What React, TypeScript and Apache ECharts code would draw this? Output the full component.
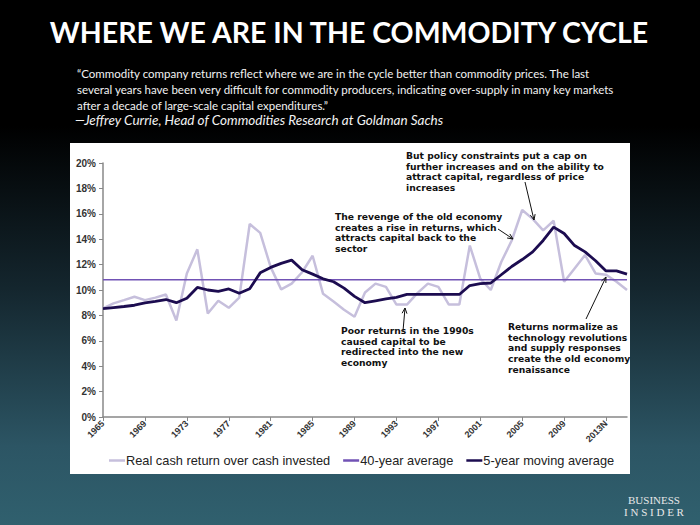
import React, { useEffect, useRef } from "react";
import * as echarts from "echarts";

const years: string[] = [
  "1965","1966","1967","1968","1969","1970","1971","1972","1973","1974",
  "1975","1976","1977","1978","1979","1980","1981","1982","1983","1984",
  "1985","1986","1987","1988","1989","1990","1991","1992","1993","1994",
  "1995","1996","1997","1998","1999","2000","2001","2002","2003","2004",
  "2005","2006","2007","2008","2009","2010","2011","2012","2013N","2014",
  "2015",
];

const realCashReturn: number[] = [
  8.55, 8.95, 9.2, 9.47, 9.2, 9.4, 9.65, 7.6, 11.3, 13.2,
  8.15, 9.15, 8.6, 9.4, 15.2, 14.5, 11.8, 10.05, 10.5, 11.4,
  12.7, 9.7, 9.1, 8.45, 7.9, 9.8, 10.5, 10.25, 8.85, 8.85,
  9.75, 10.5, 10.25, 8.85, 8.85, 13.5, 10.9, 10.0, 12.2, 13.9,
  16.3, 15.6, 14.7, 15.45, 10.65, 11.7, 12.75, 11.3, 11.2, 10.65,
  10.0,
];

const movingAverage5y: number[] = [
  8.53, 8.62, 8.7, 8.8, 8.98, 9.1, 9.25, 9.0, 9.35, 10.2,
  10.0, 9.9, 10.08, 9.75, 10.1, 11.35, 11.78, 12.1, 12.35, 11.6,
  11.25, 10.88, 10.65, 10.15, 9.5, 9.0, 9.15, 9.3, 9.42, 9.65,
  9.65, 9.65, 9.65, 9.65, 9.65, 10.35, 10.5, 10.55, 11.2, 11.85,
  12.4, 13.0, 13.9, 14.95, 14.45, 13.5, 13.0, 12.3, 11.5, 11.5,
  11.25,
];

const fortyYearAverageValue = 10.8;
const fortyYearAverage: number[] = years.map(() => fortyYearAverageValue);

const seriesNames: string[] = [
  "Real cash return over cash invested",
  "40-year average",
  "5-year moving average",
];

const titleText = "WHERE WE ARE IN THE COMMODITY CYCLE";
const quoteLines: string[] = [
  "“Commodity company returns reflect where we are in the cycle better than commodity prices. The last",
  "several years have been very difficult for commodity producers, indicating over-supply in many key markets",
  "after a decade of large-scale capital expenditures.”",
];
const attribution = "—Jeffrey Currie, Head of Commodities Research at Goldman Sachs";

const annotations: { lines: string[]; x: number; y: number }[] = [
  {
    lines: [
      "But policy constraints put a cap on",
      "further increases and on the ability to",
      "attract capital, regardless of price",
      "increases",
    ],
    x: 406,
    y: 150,
  },
  {
    lines: [
      "The revenge of the old economy",
      "creates a rise in returns, which",
      "attracts capital back to the",
      "sector",
    ],
    x: 335,
    y: 211,
  },
  {
    lines: [
      "Poor returns in the 1990s",
      "caused capital to be",
      "redirected into the new",
      "economy",
    ],
    x: 341,
    y: 325,
  },
  {
    lines: [
      "Returns normalize as",
      "technology revolutions",
      "and supply responses",
      "create the old economy",
      "renaissance",
    ],
    x: 508,
    y: 321,
  },
];

const arrows: number[][] = [
  [525, 182, 534, 220],
  [498, 229, 513, 239],
  [403, 331, 405, 308],
  [586, 319, 606, 277],
];

function arrowElements(a: number[]) {
  const [x1, y1, x2, y2] = a;
  const ang = Math.atan2(y2 - y1, x2 - x1);
  const L = 6;
  const w = 0.42;
  const p1 = [x2 - L * Math.cos(ang - w), y2 - L * Math.sin(ang - w)];
  const p2 = [x2 - L * Math.cos(ang + w), y2 - L * Math.sin(ang + w)];
  return [
    {
      type: "line",
      shape: { x1, y1, x2, y2 },
      style: { stroke: "#111", lineWidth: 1 },
      z: 20,
    },
    {
      type: "polyline",
      shape: { points: [p1, [x2, y2], p2] },
      style: { stroke: "#111", lineWidth: 1, fill: null },
      z: 20,
    },
  ];
}

export default function App() {
  const ref = useRef<HTMLDivElement>(null);

  useEffect(() => {
    if (!ref.current) return;
    const chart = echarts.init(ref.current, undefined, { renderer: "svg" });

    const graphics: any[] = [
      {
        type: "rect",
        shape: { x: 70, y: 143, width: 560, height: 331 },
        style: { fill: "#ffffff" },
        z: -10,
      },
      {
        type: "text",
        x: 349,
        y: 32,
        style: {
          text: titleText,
          fill: "#ffffff",
          font: "bold 28.5px Lato",
          textAlign: "center",
          textVerticalAlign: "middle",
        },
      },
      ...quoteLines.map((t, i) => ({
        type: "text",
        x: 77,
        y: 73 + i * 16,
        style: {
          text: t,
          fill: "#f2f2f2",
          font: "11.5px Lato",
          textAlign: "left",
          textVerticalAlign: "middle",
        },
      })),
      {
        type: "text",
        x: 75,
        y: 120,
        style: {
          text: attribution,
          fill: "#f2f2f2",
          font: "italic 13.5px Lato",
          textAlign: "left",
          textVerticalAlign: "middle",
        },
      },
      ...annotations.map((a) => ({
        type: "text",
        x: a.x,
        y: a.y,
        z: 20,
        style: {
          text: a.lines.join("\n"),
          fill: "#111",
          font: "bold 9.2px 'DejaVu Sans'",
          lineHeight: 10.7,
          textAlign: "left",
          textVerticalAlign: "top",
        },
      })),
      ...arrows.flatMap(arrowElements),
      {
        type: "text",
        x: 654,
        y: 500,
        style: {
          text: "BUSINESS",
          fill: "#e8e8e8",
          font: "11px 'Liberation Serif'",
          textAlign: "center",
          textVerticalAlign: "middle",
        },
      },
      {
        type: "text",
        x: 654,
        y: 512,
        style: {
          text: "I N S I D E R",
          fill: "#e8e8e8",
          font: "11px 'Liberation Serif'",
          textAlign: "center",
          textVerticalAlign: "middle",
        },
      },
    ];

    chart.setOption({
      animation: false,
      backgroundColor: "transparent",
      grid: { left: 103, right: 73, top: 163, bottom: 108, containLabel: false },
      legend: {
        data: seriesNames,
        left: 104,
        top: 449,
        icon: "rect",
        itemWidth: 16,
        itemHeight: 2.5,
        itemGap: 13,
        textStyle: {
          fontFamily: "Liberation Sans",
          fontSize: 12.8,
          color: "#222",
          padding: [0, 0, 0, -4],
        },
      },
      xAxis: {
        type: "category",
        data: years,
        boundaryGap: false,
        axisLine: { lineStyle: { color: "#888", width: 1.5 } },
        axisTick: { interval: 3, length: 4, lineStyle: { color: "#888" } },
        axisLabel: {
          interval: 3,
          rotate: 45,
          fontFamily: "Liberation Sans",
          fontWeight: "bold",
          fontSize: 9,
          color: "#333",
          margin: 5,
        },
        splitLine: { show: false },
      },
      yAxis: {
        type: "value",
        min: 0,
        max: 20,
        interval: 2,
        axisLine: { show: true, lineStyle: { color: "#888", width: 1.5 } },
        axisTick: { show: true, length: 4, lineStyle: { color: "#888" } },
        axisLabel: {
          formatter: "{value}%",
          fontFamily: "Liberation Sans",
          fontWeight: "bold",
          fontSize: 10,
          color: "#333",
          margin: 7,
        },
        splitLine: { show: false },
      },
      series: [
        {
          name: seriesNames[0],
          type: "line",
          data: realCashReturn,
          showSymbol: false,
          lineStyle: { color: "#c6bfdc", width: 2.5 },
          itemStyle: { color: "#c6bfdc" },
          z: 2,
        },
        {
          name: seriesNames[1],
          type: "line",
          data: fortyYearAverage,
          showSymbol: false,
          lineStyle: { color: "#7152b5", width: 1.5 },
          itemStyle: { color: "#7152b5" },
          z: 3,
        },
        {
          name: seriesNames[2],
          type: "line",
          data: movingAverage5y,
          showSymbol: false,
          lineStyle: { color: "#1c0c50", width: 2.8 },
          itemStyle: { color: "#1c0c50" },
          z: 4,
        },
      ],
      graphic: graphics,
    });

    return () => {
      chart.dispose();
    };
  }, []);

  return (
    <div
      ref={ref}
      style={{
        position: "fixed",
        left: 0,
        top: 0,
        width: 700,
        height: 525,
        background:
          "linear-gradient(180deg, #000000 0%, #000000 24%, #14262e 55%, #2c5564 85%, #30606e 100%)",
      }}
    />
  );
}
